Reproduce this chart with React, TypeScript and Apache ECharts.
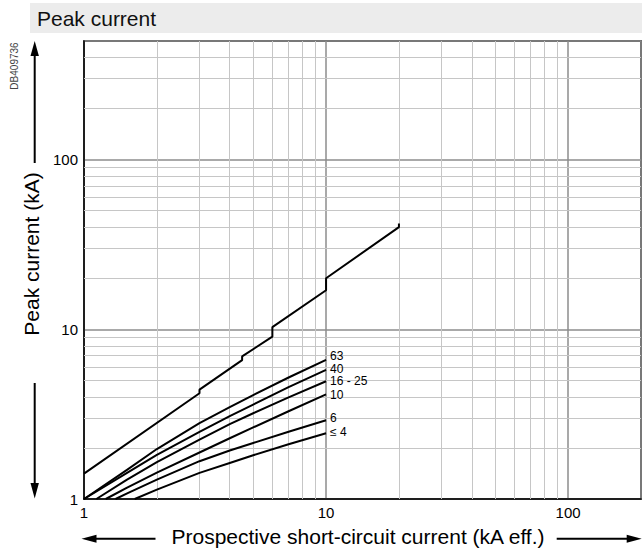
import React, { useEffect, useRef } from "react";
import * as echarts from "echarts";

const FONT = '"Liberation Sans", Arial, Helvetica, sans-serif';

// Minor grid values (log-log paper)
const xMinorGrid = [2, 3, 4, 5, 6, 7, 8, 9, 20, 30, 40, 50, 60, 70, 80, 90];
const yMinorGrid = [2, 3, 4, 5, 6, 7, 8, 9, 20, 30, 40, 50, 60, 70, 80, 90, 200, 300, 400];

// Non-limited peak current (with steps)
const peakX = [1, 3, 3, 4.5, 4.5, 6, 6, 10, 10, 20, 20];
const peakY = [1.41, 4.2, 4.41, 6.58, 6.92, 9.05, 10.3, 17, 20, 40, 42];

// Limited peak current curves per rating
const x63 = [1, 1.5, 2, 3, 4, 5, 7, 10];
const y63 = [1, 1.48, 1.97, 2.8, 3.48, 4.1, 5.2, 6.6];
const x40 = [1, 1.5, 2, 3, 4, 5, 7, 10];
const y40 = [1, 1.42, 1.82, 2.49, 3.08, 3.6, 4.56, 5.77];
const x16 = [1.125, 1.5, 2, 3, 4, 5, 7, 10];
const y16 = [1, 1.295, 1.65, 2.24, 2.76, 3.2, 3.97, 4.94];
const x10 = [1.23, 1.5, 2, 3, 4, 5, 7, 10];
const y10 = [1, 1.163, 1.43, 1.88, 2.28, 2.64, 3.29, 4.14];
const x6 = [1.35, 1.5, 2, 3, 4, 5, 7, 10];
const y6 = [1, 1.075, 1.3, 1.67, 1.93, 2.14, 2.49, 2.91];
const x4 = [1.62, 2, 3, 4, 5, 7, 10];
const y4 = [1, 1.135, 1.425, 1.63, 1.81, 2.1, 2.44];

const curveNames = ["63", "40", "16 - 25", "10", "6", "≤ 4"];
const curveXs = [x63, x40, x16, x10, x6, x4];
const curveYs = [y63, y40, y16, y10, y6, y4];
const labelOffsets = [-4, -1, 0, 1, -2, -1];

const pairs = (xs: number[], ys: number[]) => xs.map((x, i) => [x, ys[i]]);

export default function App() {
  const ref = useRef<HTMLDivElement>(null);

  useEffect(() => {
    if (!ref.current) return;
    const chart = echarts.init(ref.current, undefined, { renderer: "svg" });

    const curveSeries = curveNames.map((name, i) => ({
      name,
      type: "line",
      data: pairs(curveXs[i], curveYs[i]),
      showSymbol: false,
      symbol: "none",
      smooth: false,
      z: 5,
      lineStyle: { color: "#000", width: 2, join: "round" },
      endLabel: {
        show: true,
        formatter: name,
        distance: 4,
        offset: [0, labelOffsets[i]],
        color: "#000",
        fontSize: 12,
        lineHeight: 12,
        fontFamily: FONT,
      },
      silent: true,
    }));

    const arrowColor = "#000";

    chart.setOption({
      animation: false,
      grid: {
        left: 84,
        right: 1,
        top: 41,
        bottom: 50,
        show: true,
        borderColor: "#000",
        borderWidth: 1.5,
        backgroundColor: "transparent",
      },
      xAxis: {
        type: "log",
        logBase: 10,
        min: 1,
        max: 200,
        axisLine: { show: true, onZero: false, lineStyle: { color: "#000", width: 1.5 } },
        axisTick: { show: false },
        axisLabel: {
          color: "#000",
          fontSize: 15,
          fontFamily: FONT,
          margin: 6,
          showMinLabel: true,
          showMaxLabel: false,
        },
        splitLine: { show: true, lineStyle: { color: "#8c8c8c", width: 1.5 } },
      },
      yAxis: {
        type: "log",
        logBase: 10,
        min: 1,
        max: 500,
        axisLine: { show: true, onZero: false, lineStyle: { color: "#000", width: 1.5 } },
        axisTick: { show: false },
        axisLabel: {
          color: "#000",
          fontSize: 15,
          fontFamily: FONT,
          margin: 6,
          showMinLabel: true,
          showMaxLabel: false,
        },
        splitLine: { show: true, lineStyle: { color: "#8c8c8c", width: 1.5 } },
      },
      series: [
        {
          name: "grid",
          type: "line",
          data: [[1, 1]],
          symbol: "none",
          lineStyle: { opacity: 0 },
          z: 1,
          silent: true,
          markLine: {
            silent: true,
            symbol: ["none", "none"],
            label: { show: false },
            lineStyle: { color: "#c6c6c6", width: 1, type: "solid" },
            emphasis: { disabled: true },
            data: [
              ...xMinorGrid.map((v) => ({ xAxis: v })),
              ...yMinorGrid.map((v) => ({ yAxis: v })),
            ],
          },
        },
        {
          name: "peak",
          type: "line",
          data: pairs(peakX, peakY),
          symbol: "none",
          showSymbol: false,
          z: 5,
          lineStyle: { color: "#000", width: 2 },
          silent: true,
        },
        ...curveSeries,
      ],
      graphic: [
        {
          type: "rect",
          shape: { x: 30, y: 3, width: 612, height: 30 },
          style: { fill: "#ececec" },
          silent: true,
        },
        {
          type: "text",
          x: 37,
          y: 18,
          style: {
            text: "Peak current",
            fill: "#111",
            font: `21px ${FONT}`,
            verticalAlign: "middle",
            align: "left",
          },
        },
        {
          type: "text",
          x: 14,
          y: 66,
          rotation: Math.PI / 2,
          style: {
            text: "DB409736",
            fill: "#444",
            font: `10px ${FONT}`,
            align: "center",
            verticalAlign: "middle",
          },
        },
        {
          type: "text",
          x: 31,
          y: 254,
          rotation: Math.PI / 2,
          style: {
            text: "Peak current (kA)",
            fill: "#000",
            font: `21px ${FONT}`,
            align: "center",
            verticalAlign: "middle",
          },
        },
        {
          type: "text",
          x: 358,
          y: 536,
          style: {
            text: "Prospective short-circuit current (kA eff.)",
            fill: "#000",
            font: `21px ${FONT}`,
            align: "center",
            verticalAlign: "middle",
          },
        },
        // up arrow
        {
          type: "line",
          shape: { x1: 34.7, y1: 163, x2: 34.7, y2: 52 },
          style: { stroke: arrowColor, lineWidth: 2 },
        },
        {
          type: "polygon",
          shape: { points: [[34.7, 41], [30.5, 56], [38.9, 56]] },
          style: { fill: arrowColor },
        },
        // down arrow
        {
          type: "line",
          shape: { x1: 34.7, y1: 383, x2: 34.7, y2: 488 },
          style: { stroke: arrowColor, lineWidth: 2 },
        },
        {
          type: "polygon",
          shape: { points: [[34.7, 498.5], [30.5, 483], [38.9, 483]] },
          style: { fill: arrowColor },
        },
        // left arrow
        {
          type: "line",
          shape: { x1: 155.5, y1: 538.7, x2: 92, y2: 538.7 },
          style: { stroke: arrowColor, lineWidth: 2 },
        },
        {
          type: "polygon",
          shape: { points: [[81.5, 538.7], [96.5, 534.7], [96.5, 542.7]] },
          style: { fill: arrowColor },
        },
        // right arrow
        {
          type: "line",
          shape: { x1: 556.7, y1: 538.7, x2: 630, y2: 538.7 },
          style: { stroke: arrowColor, lineWidth: 2 },
        },
        {
          type: "polygon",
          shape: { points: [[641.7, 538.7], [626.7, 534.7], [626.7, 542.7]] },
          style: { fill: arrowColor },
        },
      ],
    });

    return () => chart.dispose();
  }, []);

  return (
    <div
      ref={ref}
      style={{ position: "fixed", left: 0, top: 0, width: 642, height: 549, background: "#fff" }}
    />
  );
}
